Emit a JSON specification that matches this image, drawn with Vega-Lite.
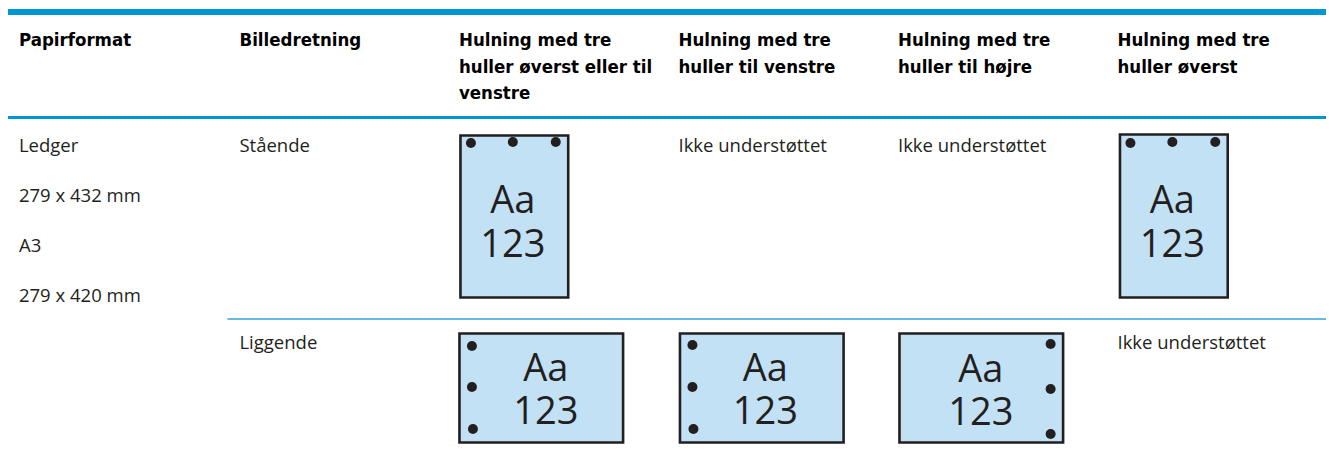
{
  "$schema": "https://vega.github.io/schema/vega-lite/v6.json",
  "width": 1329,
  "height": 458,
  "padding": 0,
  "autosize": {"type": "fit", "contains": "padding"},
  "background": "white",
  "config": {"view": {"stroke": null}},
  "datasets": {
    "rules": [
      {"kind": "top", "x": 8, "x2": 1329, "y": 12},
      {"kind": "head", "x": 8, "x2": 1329, "y": 117.5},
      {"kind": "row", "x": 228, "x2": 1329, "y": 319}
    ],
    "header": [
      {"x": 19, "y": 46, "text": "Papirformat"},
      {"x": 240, "y": 46, "text": "Billedretning"},
      {"x": 460, "y": 46, "text": "Hulning med tre"},
      {"x": 460, "y": 72.5, "text": "huller øverst eller til"},
      {"x": 460, "y": 99, "text": "venstre"},
      {"x": 680, "y": 46, "text": "Hulning med tre"},
      {"x": 680, "y": 72.5, "text": "huller til venstre"},
      {"x": 900, "y": 46, "text": "Hulning med tre"},
      {"x": 900, "y": 72.5, "text": "huller til højre"},
      {"x": 1120, "y": 46, "text": "Hulning med tre"},
      {"x": 1120, "y": 72.5, "text": "huller øverst"}
    ],
    "body": [
      {"x": 19, "y": 152, "text": "Ledger"},
      {"x": 19, "y": 202, "text": "279 x 432 mm"},
      {"x": 19, "y": 252, "text": "A3"},
      {"x": 19, "y": 302, "text": "279 x 420 mm"},
      {"x": 240, "y": 152, "text": "Stående"},
      {"x": 240, "y": 349, "text": "Liggende"},
      {"x": 680, "y": 152, "text": "Ikke understøttet"},
      {"x": 900, "y": 152, "text": "Ikke understøttet"},
      {"x": 1120, "y": 349, "text": "Ikke understøttet"}
    ],
    "pages": [
      {"page": "p3", "x": 461.5, "x2": 569.5, "y": 135.5, "y2": 297.5},
      {"page": "p6", "x": 1122.5, "x2": 1230.5, "y": 134.5, "y2": 297.5},
      {"page": "l3", "x": 460.5, "x2": 624.5, "y": 333.5, "y2": 442.5},
      {"page": "l4", "x": 681.5, "x2": 845.5, "y": 333.5, "y2": 442.5},
      {"page": "l5", "x": 901.5, "x2": 1065.5, "y": 333.5, "y2": 442.5}
    ],
    "holes": [
      {"x": 472, "y": 143}, {"x": 514, "y": 142}, {"x": 557, "y": 142},
      {"x": 1133, "y": 143}, {"x": 1175, "y": 142}, {"x": 1218, "y": 142},
      {"x": 473, "y": 346}, {"x": 473, "y": 387}, {"x": 474, "y": 429},
      {"x": 694, "y": 345}, {"x": 694, "y": 387}, {"x": 695, "y": 429},
      {"x": 1053, "y": 344}, {"x": 1053, "y": 389}, {"x": 1053, "y": 434}
    ],
    "labels": [
      {"x": 514, "y": 213, "text": "Aa"}, {"x": 514, "y": 257, "text": "123"},
      {"x": 1175, "y": 213, "text": "Aa"}, {"x": 1175, "y": 257, "text": "123"},
      {"x": 547, "y": 381, "text": "Aa"}, {"x": 547, "y": 424, "text": "123"},
      {"x": 767, "y": 381, "text": "Aa"}, {"x": 767, "y": 424, "text": "123"},
      {"x": 983, "y": 382, "text": "Aa"}, {"x": 983, "y": 425, "text": "123"}
    ]
  },
  "layer": [
    {
      "data": {"name": "rules"},
      "transform": [{"filter": "datum.kind === 'top'"}],
      "mark": {"type": "rule", "color": "#0096D6", "strokeWidth": 6},
      "encoding": {
        "x": {"field": "x", "type": "quantitative", "scale": {"domain": [0, 1329], "nice": false, "zero": false}, "axis": null},
        "x2": {"field": "x2"},
        "y": {"field": "y", "type": "quantitative", "scale": {"domain": [0, 458], "nice": false, "zero": false, "reverse": true}, "axis": null}
      }
    },
    {
      "data": {"name": "rules"},
      "transform": [{"filter": "datum.kind === 'head'"}],
      "mark": {"type": "rule", "color": "#0096D6", "strokeWidth": 3},
      "encoding": {
        "x": {"field": "x", "type": "quantitative", "axis": null},
        "x2": {"field": "x2"},
        "y": {"field": "y", "type": "quantitative", "axis": null}
      }
    },
    {
      "data": {"name": "rules"},
      "transform": [{"filter": "datum.kind === 'row'"}],
      "mark": {"type": "rule", "color": "#2EA3DD", "strokeWidth": 1.3},
      "encoding": {
        "x": {"field": "x", "type": "quantitative", "axis": null},
        "x2": {"field": "x2"},
        "y": {"field": "y", "type": "quantitative", "axis": null}
      }
    },
    {
      "data": {"name": "header"},
      "mark": {"type": "text", "align": "left", "baseline": "alphabetic", "font": "DejaVu Sans Condensed, Liberation Sans, sans-serif", "fontWeight": "bold", "fontSize": 18.5, "color": "#000000"},
      "encoding": {
        "x": {"field": "x", "type": "quantitative", "axis": null},
        "y": {"field": "y", "type": "quantitative", "axis": null},
        "text": {"field": "text"}
      }
    },
    {
      "data": {"name": "body"},
      "mark": {"type": "text", "align": "left", "baseline": "alphabetic", "font": "Open Sans", "fontSize": 18.5, "color": "#231F20"},
      "encoding": {
        "x": {"field": "x", "type": "quantitative", "axis": null},
        "y": {"field": "y", "type": "quantitative", "axis": null},
        "text": {"field": "text"}
      }
    },
    {
      "data": {"name": "pages"},
      "mark": {"type": "rect", "fill": "#C3E1F5", "stroke": "#231F20", "strokeWidth": 2.6},
      "encoding": {
        "x": {"field": "x", "type": "quantitative", "axis": null},
        "x2": {"field": "x2"},
        "y": {"field": "y", "type": "quantitative", "axis": null},
        "y2": {"field": "y2"}
      }
    },
    {
      "data": {"name": "holes"},
      "mark": {"type": "circle", "color": "#231F20", "opacity": 1, "size": 100},
      "encoding": {
        "x": {"field": "x", "type": "quantitative", "axis": null},
        "y": {"field": "y", "type": "quantitative", "axis": null}
      }
    },
    {
      "data": {"name": "labels"},
      "mark": {"type": "text", "align": "center", "baseline": "alphabetic", "font": "Open Sans", "fontSize": 38, "color": "#231F20"},
      "encoding": {
        "x": {"field": "x", "type": "quantitative", "axis": null},
        "y": {"field": "y", "type": "quantitative", "axis": null},
        "text": {"field": "text"}
      }
    }
  ]
}
